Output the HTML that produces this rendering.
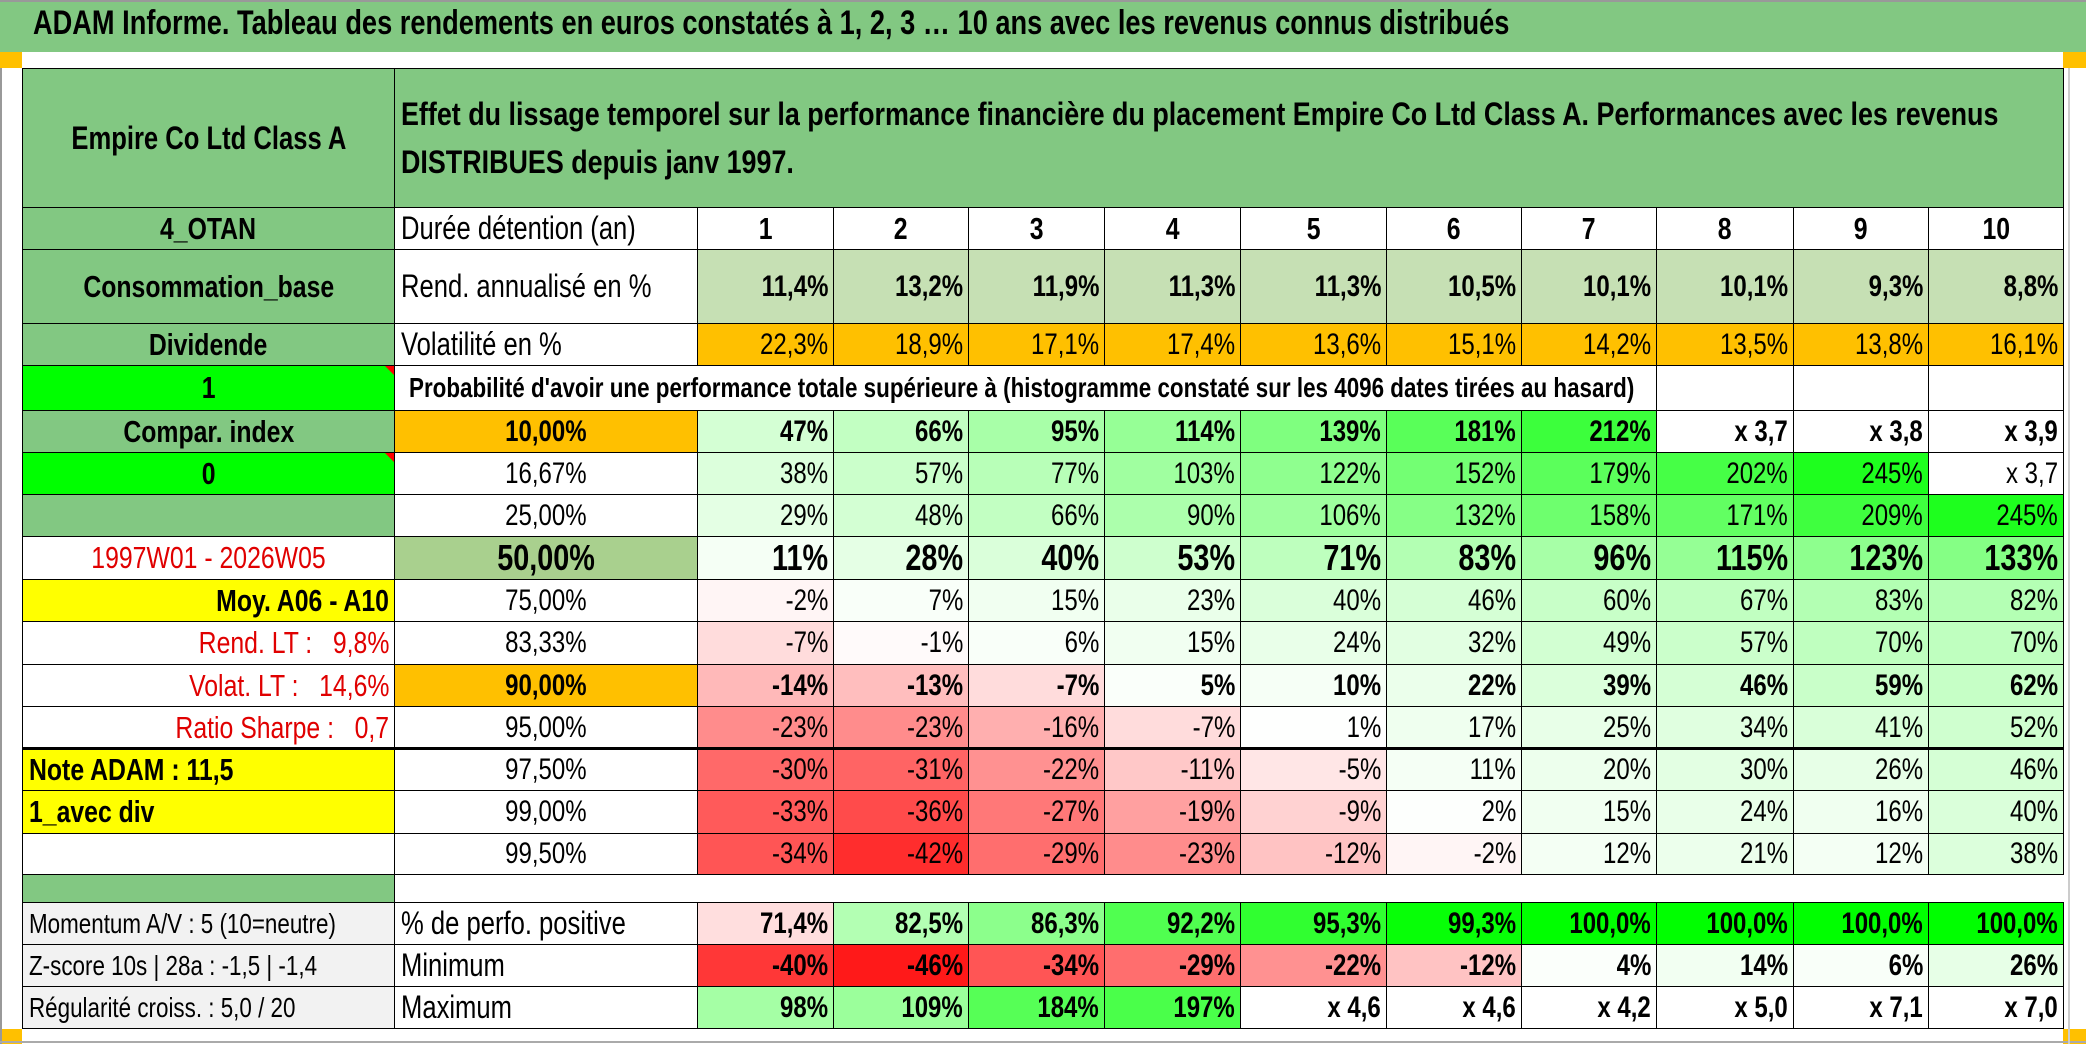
<!DOCTYPE html>
<html><head><meta charset="utf-8">
<style>
body{margin:0;width:2086px;height:1044px;position:relative;background:#fff;overflow:hidden;font-family:"Liberation Sans",sans-serif;color:#000}
.c{position:absolute;box-sizing:border-box;border:1px solid #000;display:flex;align-items:center;overflow:visible;white-space:pre}
.t{display:inline-block;transform:scaleX(.8)}
.L{justify-content:flex-start;padding-left:6px}.L .t{transform-origin:left center}
.R{justify-content:flex-end;padding-right:5px}.R .t{transform-origin:right center}
.C{justify-content:center}.C .t{transform-origin:center}
</style></head><body>
<div style="position:absolute;left:0;top:0;width:2086px;height:52px;background:#82C882;border-top:2px solid #999;box-sizing:border-box"></div>
<div style="position:absolute;left:33px;top:4px;font-size:34px;font-weight:bold;white-space:nowrap;transform:scaleX(.8);transform-origin:left center">ADAM Informe. Tableau des rendements en euros constatés à 1, 2, 3 … 10 ans avec les revenus connus distribués</div>
<div style="position:absolute;left:0;top:52px;width:22px;height:16px;background:#FFC000"></div>
<div style="position:absolute;left:2063px;top:52px;width:23px;height:16px;background:#FFC000"></div>
<div style="position:absolute;left:0;top:1029px;width:22px;height:15px;background:#FFC000"></div>
<div style="position:absolute;left:2063px;top:1029px;width:23px;height:15px;background:#FFC000"></div>
<div style="position:absolute;left:0;top:68px;width:2px;height:976px;background:#999"></div>
<div style="position:absolute;left:0;top:1041px;width:2086px;height:2px;background:#aaa"></div>
<div style="position:absolute;left:2068px;top:68px;width:2px;height:976px;background:#ccc"></div>
<div id="root"></div>
<script>
const durations=[1,2,3,4,5,6,7,8,9,10];
const rendValues=[11.4,13.2,11.9,11.3,11.3,10.5,10.1,10.1,9.3,8.8];
const volValues=[22.3,18.9,17.1,17.4,13.6,15.1,14.2,13.5,13.8,16.1];
const quantileLabels=["10,00%","16,67%","25,00%","50,00%","75,00%","83,33%","90,00%","95,00%","97,50%","99,00%","99,50%"];
const q10=[47,66,95,114,139,181,212,270,280,290];
const q16=[38,57,77,103,122,152,179,202,245,270];
const q25=[29,48,66,90,106,132,158,171,209,245];
const q50=[11,28,40,53,71,83,96,115,123,133];
const q75=[-2,7,15,23,40,46,60,67,83,82];
const q83=[-7,-1,6,15,24,32,49,57,70,70];
const q90=[-14,-13,-7,5,10,22,39,46,59,62];
const q95=[-23,-23,-16,-7,1,17,25,34,41,52];
const q975=[-30,-31,-22,-11,-5,11,20,30,26,46];
const q99=[-33,-36,-27,-19,-9,2,15,24,16,40];
const q995=[-34,-42,-29,-23,-12,-2,12,21,12,38];
const posValues=[71.4,82.5,86.3,92.2,95.3,99.3,100,100,100,100];
const minValues=[-40,-46,-34,-29,-22,-12,4,14,6,26];
const maxValues=[98,109,184,197,360,360,320,400,610,600];

const X=[22,394,697,833,968,1104,1240,1386,1521,1656,1793,1928,2063];
const Y=[68,207,249,323,365,410,452,494,536,579,621,664,706,748,790,833,874,902,944,986,1028];
const root=document.getElementById('root');
function cell(x0,x1,y0,y1,txt,o){
  const d=document.createElement('div');
  d.className='c '+(o.al||'C');
  d.style.left=x0+'px';d.style.top=y0+'px';d.style.width=(x1-x0+1)+'px';d.style.height=(y1-y0+1)+'px';
  d.style.background=o.bg||'#fff';
  d.style.fontSize=(o.fs||30)+'px';
  d.style.fontWeight=o.b?'bold':'normal';
  if(o.col)d.style.color=o.col;
  const s=document.createElement('span');s.className='t';s.textContent=txt;
  d.appendChild(s);
  
  
  root.appendChild(d);return d;
}
const G='#82C882';
function fmt(v){if(v>=250){return 'x '+((100+v)/100).toFixed(1).replace('.',',');}return Math.round(v)+'%';}
function heat(v){
  if(v>=250)return '#fff';
  if(v>=0){const t=Math.min(v/250,1);const c=Math.round(255*(1-0.9*t));return 'rgb('+c+',255,'+c+')';}
  const t=Math.min(-v/46,1);const c=Math.round(255*(1-0.9*t));return 'rgb(255,'+c+','+c+')';
}
function posHeat(v){if(v<75)return '#FFDEDE';const t=(v-75)/25;const c=Math.round(255*(1-t));return 'rgb('+c+',255,'+c+')';}
cell(X[0],X[1],Y[0],Y[1],'Empire Co Ltd Class A',{bg:G,b:1,fs:32,name:'fund-name'});
const h=cell(X[1],X[12],Y[0],Y[1],'',{bg:G,b:1,fs:32,al:'L',name:'description'});
h.firstChild.innerHTML='Effet du lissage temporel sur la performance financière du placement Empire Co Ltd Class A. Performances avec les revenus<br>DISTRIBUES depuis janv 1997.';
h.firstChild.style.lineHeight='48px';h.firstChild.style.transform='scaleX(.84)';
const colA=[
 ['4_OTAN',G,'C',1,null],['Consommation_base',G,'C',1,null],['Dividende',G,'C',1,null],['1','#00FF00','C',1,null],
 ['Compar. index',G,'C',1,null],['0','#00FF00','C',1,null],['',G,'C',1,null],['1997W01 - 2026W05','#fff','C',0,'#E00000'],
 ['Moy. A06 - A10','#FFFF00','R',0,null],['Rend. LT :   9,8%','#fff','R',0,'#E00000'],['Volat. LT :   14,6%','#fff','R',0,'#E00000'],
 ['Ratio Sharpe :   0,7','#fff','R',0,'#E00000'],['Note ADAM : 11,5','#FFFF00','L',0,null],['1_avec div','#FFFF00','L',0,null],['','#fff','C',0,null],
 ['',G,'C',0,null],['Momentum A/V : 5 (10=neutre)','#F2F2F2','L',0,null],['Z-score 10s | 28a : -1,5 | -1,4','#F2F2F2','L',0,null],['Régularité croiss. : 5,0 / 20','#F2F2F2','L',0,null]];
colA.forEach((r,i)=>{const d=cell(X[0],X[1],Y[i+1],Y[i+2],r[0],{bg:r[1],al:r[2],b:r[3]||i<16&&!r[4],col:r[4],fs:i>=16?28:31,name:'side-label'});
 if(r[1]=='#00FF00'){const tr=document.createElement('div');tr.style.cssText='position:absolute;right:0;top:0;width:0;height:0;border-top:9px solid #f00;border-left:9px solid transparent';d.appendChild(tr);}});
cell(X[1],X[2],Y[1],Y[2],'Durée détention (an)',{al:'L',fs:32,name:'duration-label'});
durations.forEach((v,i)=>cell(X[i+2],X[i+3],Y[1],Y[2],String(v),{b:1,fs:31,name:'duration-header'}));
cell(X[1],X[2],Y[2],Y[3],'Rend. annualisé en %',{al:'L',fs:32,name:'return-label'});
rendValues.forEach((v,i)=>cell(X[i+2],X[i+3],Y[2],Y[3],v.toFixed(1).replace('.',',')+'%',{b:1,al:'R',bg:'#C6E0B4',name:'return-value'}));
cell(X[1],X[2],Y[3],Y[4],'Volatilité en %',{al:'L',fs:32,name:'volatility-label'});
volValues.forEach((v,i)=>cell(X[i+2],X[i+3],Y[3],Y[4],v.toFixed(1).replace('.',',')+'%',{al:'R',bg:'#FFC000',name:'volatility-value'}));
cell(X[1],X[9],Y[4],Y[5],"Probabilité d'avoir une performance totale supérieure à (histogramme constaté sur les 4096 dates tirées au hasard)",{b:1,al:'L',fs:28,name:'probability-caption'}).style.paddingLeft='14px';
[9,10,11].forEach(j=>cell(X[j],X[j+1],Y[4],Y[5],'',{name:'empty-cell'}));
const qRows=[q10,q16,q25,q50,q75,q83,q90,q95,q975,q99,q995];
const boldRows=[0,3,6];
qRows.forEach((row,r)=>{
  const b=boldRows.includes(r);const big=r==3;
  const lbg=r==0||r==6?'#FFC000':(r==3?'#A9D08E':'#fff');
  cell(X[1],X[2],Y[r+5],Y[r+6],quantileLabels[r],{bg:lbg,b:b,fs:big?36:30,name:'quantile-label'});
  row.forEach((v,i)=>cell(X[i+2],X[i+3],Y[r+5],Y[r+6],fmt(v),{bg:heat(v),al:'R',b:b,fs:big?36:30,name:'quantile-value'}));
});
const tl=document.createElement('div');tl.style.cssText='position:absolute;left:22px;top:747px;width:2042px;height:3px;background:#000';


root.appendChild(tl);
cell(X[1],X[2],Y[17],Y[18],'% de perfo. positive',{al:'L',fs:32,name:'positive-label'});
posValues.forEach((v,i)=>cell(X[i+2],X[i+3],Y[17],Y[18],v.toFixed(1).replace('.',',')+'%',{b:1,al:'R',bg:posHeat(v),name:'positive-value'}));
cell(X[1],X[2],Y[18],Y[19],'Minimum',{al:'L',fs:32,name:'minimum-label'});
minValues.forEach((v,i)=>cell(X[i+2],X[i+3],Y[18],Y[19],fmt(v),{b:1,al:'R',bg:heat(v),name:'minimum-value'}));
cell(X[1],X[2],Y[19],Y[20],'Maximum',{al:'L',fs:32,name:'maximum-label'});
maxValues.forEach((v,i)=>cell(X[i+2],X[i+3],Y[19],Y[20],fmt(v),{b:1,al:'R',bg:heat(v),name:'maximum-value'}));
</script>
</body></html>
